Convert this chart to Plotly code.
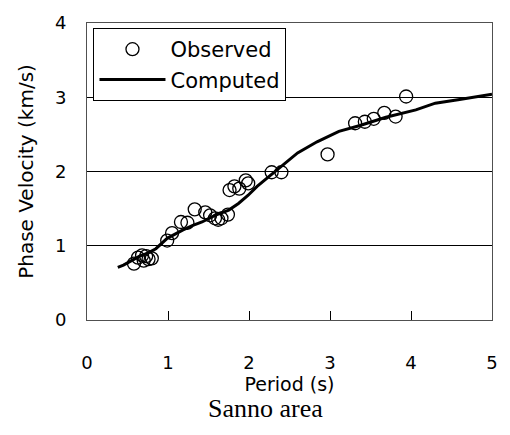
import plotly.graph_objects as go

# Observed phase velocities
obs_period = [0.58, 0.63, 0.68, 0.70, 0.73, 0.76, 0.80,
              0.99, 1.05, 1.16, 1.24, 1.33, 1.46, 1.52, 1.58, 1.62, 1.66, 1.74,
              1.76, 1.82, 1.88, 1.96, 1.99, 2.28, 2.40,
              2.97, 3.31, 3.43, 3.54, 3.67, 3.81, 3.94]
obs_velocity = [0.76, 0.84, 0.87, 0.80, 0.86, 0.82, 0.83,
                1.07, 1.17, 1.32, 1.31, 1.49, 1.45, 1.41, 1.37, 1.35, 1.37, 1.42,
                1.75, 1.80, 1.77, 1.88, 1.84, 1.99, 1.99,
                2.23, 2.65, 2.67, 2.71, 2.79, 2.74, 3.01]

# Computed dispersion curve
comp_period = [0.38, 0.45, 0.55, 0.65, 0.75, 0.85, 0.99, 1.10, 1.18, 1.30, 1.42,
               1.58, 1.75, 1.87, 1.99, 2.10, 2.23, 2.35, 2.60, 2.84, 3.11, 3.37,
               3.69, 4.06, 4.30, 4.60, 4.85, 5.00]
comp_velocity = [0.71, 0.74, 0.80, 0.86, 0.90, 0.96, 1.10, 1.17, 1.21, 1.27, 1.32,
                 1.41, 1.48, 1.57, 1.68, 1.80, 1.92, 2.03, 2.25, 2.40, 2.54, 2.62,
                 2.73, 2.83, 2.92, 2.97, 3.02, 3.04]

x_ticks = [0, 1, 2, 3, 4, 5]
y_ticks = [0, 1, 2, 3, 4]

FONT = "DejaVu Sans"

fig = go.Figure()
fig.add_trace(go.Scatter(
    x=obs_period, y=obs_velocity, mode="markers", name="Observed",
    marker=dict(symbol="circle-open", size=13, color="black", line=dict(width=1.3, color="black")),
))
fig.add_trace(go.Scatter(
    x=comp_period, y=comp_velocity, mode="lines", name="Computed",
    line=dict(color="black", width=3),
))

fig.update_layout(
    width=510, height=435,
    margin=dict(l=87, r=13, t=18, b=115),
    paper_bgcolor="white", plot_bgcolor="white",
    font=dict(family=FONT, color="black", size=18),
    showlegend=True,
    legend=dict(
        x=0.016, y=0.983, xanchor="left", yanchor="top",
        bgcolor="white", bordercolor="black", borderwidth=1,
        font=dict(family=FONT, size=21, color="black"),
        itemwidth=66, tracegroupgap=0,
        entrywidth=125, entrywidthmode="pixels",
    ),
    xaxis=dict(
        range=[0, 5], tickvals=x_ticks, ticktext=[str(v) for v in x_ticks],
        ticks="inside", ticklen=9, tickcolor="black", tickwidth=1,
        showline=True, linecolor="#505050", linewidth=1, mirror=True,
        showgrid=False, zeroline=False,
        tickfont=dict(family=FONT, size=18),
        ticklabelstandoff=26,
        title=dict(text="Period (s)", font=dict(family=FONT, size=19), standoff=1),
    ),
    yaxis=dict(
        range=[0, 4], tickvals=y_ticks, ticktext=[str(v) for v in y_ticks],
        ticks="inside", ticklen=9, tickcolor="black", tickwidth=1,
        showline=True, linecolor="#505050", linewidth=1, mirror=True,
        showgrid=True, gridcolor="black", gridwidth=1, zeroline=False,
        tickfont=dict(family=FONT, size=18),
        ticklabelstandoff=16,
        title=dict(text="Phase Velocity (km/s)", font=dict(family=FONT, size=20), standoff=15),
    ),
    annotations=[dict(
        text="Sanno area", xref="paper", yref="paper", x=0.44, y=0, yshift=-88,
        xanchor="center", yanchor="middle", showarrow=False,
        font=dict(family="Liberation Serif", size=26, color="black"),
    )],
)

fig.write_html("out.html")
